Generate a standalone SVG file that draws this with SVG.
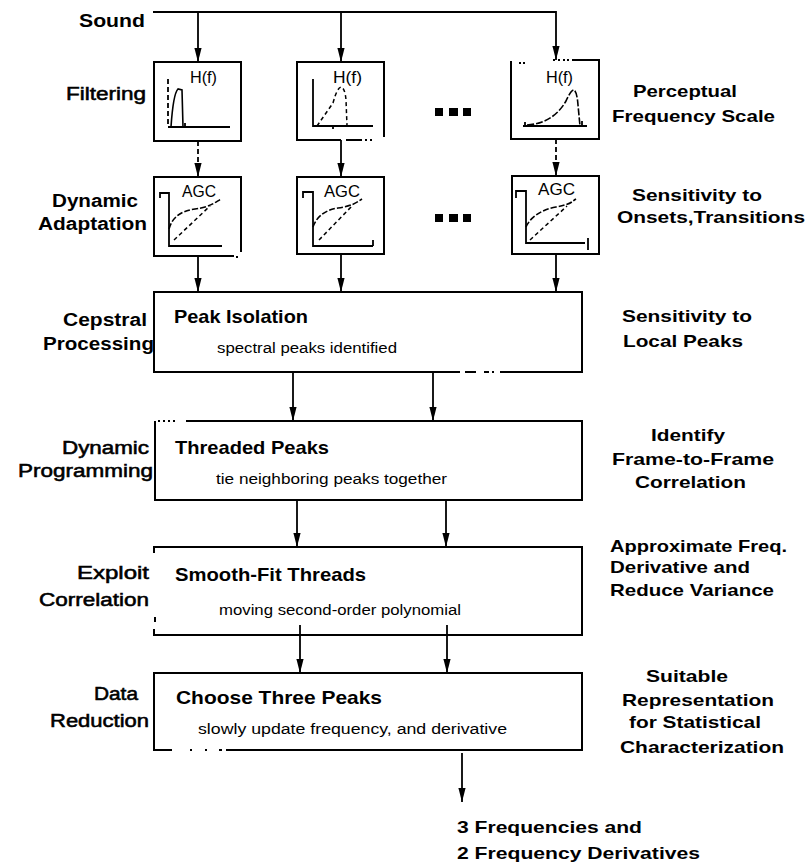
<svg xmlns="http://www.w3.org/2000/svg" width="806" height="863" viewBox="0 0 806 863">
<style>
text{font-family:"Liberation Sans",Arial,Helvetica,sans-serif;fill:#000}
.lb{font-weight:bold;font-size:18px}
.md{font-weight:normal;font-size:18px;stroke:#000;stroke-width:0.55}
.rt{font-weight:bold;font-size:17px}
.tt{font-weight:bold;font-size:19px}
.bd{font-weight:normal;font-size:14px}
.sm{font-weight:normal;font-size:16px}
.box{fill:none;stroke:#000;stroke-width:2}
.ln{fill:none;stroke:#000;stroke-width:1.8}
.dl{fill:none;stroke:#000;stroke-width:1.8;stroke-dasharray:5 3}
.ax{fill:none;stroke:#000;stroke-width:1.8}
.cv{fill:none;stroke:#000;stroke-width:1.6}
.cd{fill:none;stroke:#000;stroke-width:1.5;stroke-dasharray:4 3}
.sq{fill:#000}
</style>
<defs>
<marker id="ah" markerUnits="userSpaceOnUse" markerWidth="16" markerHeight="10" viewBox="-15 -5 16 10" refX="0" refY="0" orient="auto">
<path d="M0,0 L-14,-3.6 L-14,3.6 Z" fill="#000"/>
</marker>
</defs>
<rect x="0" y="0" width="806" height="863" fill="#fff"/>

<!-- left labels -->
<g id="label-sound"><text class="lb" x="79" y="27" font-size="19" textLength="66" lengthAdjust="spacingAndGlyphs">Sound</text></g>
<g id="label-filtering"><text class="md" x="66" y="100" textLength="80" lengthAdjust="spacingAndGlyphs">Filtering</text></g>
<g id="label-dynamic-adaptation">
<text class="lb" x="52" y="207" textLength="86" lengthAdjust="spacingAndGlyphs">Dynamic</text>
<text class="lb" x="38" y="230" textLength="109" lengthAdjust="spacingAndGlyphs">Adaptation</text>
</g>
<g id="label-cepstral">
<text class="lb" x="63" y="326" textLength="84" lengthAdjust="spacingAndGlyphs">Cepstral</text>
<text class="lb" x="43" y="350" textLength="111" lengthAdjust="spacingAndGlyphs">Processing</text>
</g>
<g id="label-dynamic-programming">
<text class="md" x="62" y="454" textLength="87" lengthAdjust="spacingAndGlyphs">Dynamic</text>
<text class="md" x="18" y="477" textLength="135" lengthAdjust="spacingAndGlyphs">Programming</text>
</g>
<g id="label-exploit">
<text class="md" x="77" y="579" textLength="72" lengthAdjust="spacingAndGlyphs">Exploit</text>
<text class="md" x="39" y="606" textLength="110" lengthAdjust="spacingAndGlyphs">Correlation</text>
</g>
<g id="label-data-reduction">
<text class="md" x="94" y="700" textLength="44" lengthAdjust="spacingAndGlyphs">Data</text>
<text class="md" x="50" y="727" textLength="99" lengthAdjust="spacingAndGlyphs">Reduction</text>
</g>

<!-- right labels -->
<g id="label-perceptual">
<text class="rt" x="633" y="97" textLength="104" lengthAdjust="spacingAndGlyphs">Perceptual</text>
<text class="rt" x="612" y="122" textLength="163" lengthAdjust="spacingAndGlyphs">Frequency Scale</text>
</g>
<g id="label-onsets">
<text class="rt" x="632" y="201" textLength="130" lengthAdjust="spacingAndGlyphs">Sensitivity to</text>
<text class="rt" x="617" y="223" textLength="188" lengthAdjust="spacingAndGlyphs">Onsets,Transitions</text>
</g>
<g id="label-local-peaks">
<text class="rt" x="622" y="322" textLength="130" lengthAdjust="spacingAndGlyphs">Sensitivity to</text>
<text class="rt" x="623" y="347" textLength="120" lengthAdjust="spacingAndGlyphs">Local Peaks</text>
</g>
<g id="label-identify">
<text class="rt" x="651" y="441" textLength="74" lengthAdjust="spacingAndGlyphs">Identify</text>
<text class="rt" x="612" y="465" textLength="162" lengthAdjust="spacingAndGlyphs">Frame-to-Frame</text>
<text class="rt" x="635" y="488" textLength="111" lengthAdjust="spacingAndGlyphs">Correlation</text>
</g>
<g id="label-approximate">
<text class="rt" x="610" y="552" textLength="177" lengthAdjust="spacingAndGlyphs">Approximate Freq.</text>
<text class="rt" x="610" y="573" textLength="140" lengthAdjust="spacingAndGlyphs">Derivative and</text>
<text class="rt" x="610" y="596" textLength="164" lengthAdjust="spacingAndGlyphs">Reduce Variance</text>
</g>
<g id="label-suitable">
<text class="rt" x="646" y="682" textLength="82" lengthAdjust="spacingAndGlyphs">Suitable</text>
<text class="rt" x="622" y="706" textLength="152" lengthAdjust="spacingAndGlyphs">Representation</text>
<text class="rt" x="629" y="728" textLength="132" lengthAdjust="spacingAndGlyphs">for Statistical</text>
<text class="rt" x="620" y="753" textLength="164" lengthAdjust="spacingAndGlyphs">Characterization</text>
</g>
<g id="label-output">
<text class="rt" x="457" y="833" textLength="185" lengthAdjust="spacingAndGlyphs">3 Frequencies and</text>
<text class="rt" x="457" y="859" textLength="243" lengthAdjust="spacingAndGlyphs">2 Frequency Derivatives</text>
</g>

<!-- ellipses -->
<g id="ellipsis-filter">
<rect class="sq" x="435" y="108" width="8" height="8"/><rect class="sq" x="449" y="108" width="9" height="8"/><rect class="sq" x="463" y="108" width="8" height="8"/>
</g>
<g id="ellipsis-agc">
<rect class="sq" x="435" y="214" width="8" height="8"/><rect class="sq" x="449" y="214" width="9" height="8"/><rect class="sq" x="463" y="214" width="8" height="8"/>
</g>

<!-- filter boxes -->
<g id="filter-1">
<rect class="box" x="154" y="62" width="87" height="79"/>
<text class="sm" x="190" y="83" textLength="27" lengthAdjust="spacingAndGlyphs">H(f)</text>
<path class="dl" d="M168,79 V127" stroke-dasharray="6 3"/>
<path class="ax" d="M168,127 H230"/>
<path class="cv" d="M171,127 C172,112 174,93 178,89 L182,90 L183,127"/>
<path class="ax" d="M185,127 V123"/>
</g>
<g id="filter-2">
<path class="box" d="M341,140 H297 V62 H384 V137"/>
<path class="box" d="M346,140 H362 M365,140 H367 M370,140 H372"/>
<text class="sm" x="333" y="83" textLength="29" lengthAdjust="spacingAndGlyphs">H(f)</text>
<path class="ax" d="M313,79 V126 H373"/>
<path class="cd" d="M317,126 L333,103 Q337,88 341,87 Q345,88 346,100 L347,126" stroke-dasharray="5 2"/>
<path class="ax" d="M333,126 V129"/>
</g>
<g id="filter-3">
<path class="box" d="M572,60 H599 V139 H511 V61"/>
<path class="box" d="M553,60 H555 M558,60 H560 M563,60 H565 M567,60 H569 M519,63 H521 M523,63 H525"/>
<text class="sm" x="546" y="83" textLength="27" lengthAdjust="spacingAndGlyphs">H(f)</text>
<path class="ax" d="M523,126 H587 M525,122 V126 M582,121 V126"/>
<path class="cv" d="M527,125 C545,124 558,115 566,101 Q571,90 574,90 Q577,92 578,105 L580,126" stroke-dasharray="7 2"/>
</g>

<!-- AGC boxes -->
<g id="agc-1">
<path class="box" d="M241,252 V177 H154 V256 H234"/>
<rect class="sq" x="236" y="256" width="2" height="2"/>
<text class="sm" x="182" y="197" textLength="34" lengthAdjust="spacingAndGlyphs">AGC</text>
<path class="ax" d="M169,199 V193 H160 V198 M169,198 V246 H222"/>
<path class="cv" d="M169,229 C172,218 180,211 195,209 S214,203 221,199" stroke-dasharray="6 2"/>
<path class="cd" d="M174,240 L210,206"/>
</g>
<g id="agc-2">
<rect class="box" x="297" y="177" width="87" height="77"/>
<text class="sm" x="324" y="197" textLength="36" lengthAdjust="spacingAndGlyphs">AGC</text>
<path class="ax" d="M313,198 V192 H303 V198 M313,197 V246 H373 M373,240 V246"/>
<path class="cv" d="M313,227 C316,218 324,210 338,208 S356,203 362,199" stroke-dasharray="6 2"/>
<path class="cd" d="M319,240 L352,206"/>
</g>
<g id="agc-3">
<rect class="box" x="512" y="176" width="87" height="78"/>
<text class="sm" x="538" y="195" textLength="37" lengthAdjust="spacingAndGlyphs">AGC</text>
<path class="ax" d="M526,198 V191 H516 V198 M526,197 V243 H585 M588,238 V250"/>
<path class="cv" d="M526,227 C530,218 540,210 556,207 S571,202 576,199" stroke-dasharray="6 2"/>
<path class="cd" d="M530,240 L567,206"/>
</g>

<!-- processing boxes -->
<g id="peak-isolation">
<path class="box" d="M460,372 H154 V292 H582 V372 H500"/>
<path class="box" d="M465,372 H476 M484,372 H489 M492,372 H494"/>
<text class="tt" x="174" y="323" textLength="134" lengthAdjust="spacingAndGlyphs">Peak Isolation</text>
<text class="bd" x="217" y="353" textLength="180" lengthAdjust="spacingAndGlyphs">spectral peaks identified</text>
</g>
<g id="threaded-peaks">
<path class="box" d="M186,421 H582 V500 H155 V421"/>
<path class="box" d="M158,421 H160 M163,421 H165 M168,421 H170 M173,421 H175" stroke-width="1.5"/>
<text class="tt" x="175" y="454" textLength="154" lengthAdjust="spacingAndGlyphs">Threaded Peaks</text>
<text class="bd" x="216" y="484" textLength="231" lengthAdjust="spacingAndGlyphs">tie neighboring peaks together</text>
</g>
<g id="smooth-fit">
<path class="box" d="M154,553 V547 H582 V635 H154 V629"/>
<path class="box" d="M155,617 V622" stroke-width="1.5"/>
<text class="tt" x="175" y="581" textLength="191" lengthAdjust="spacingAndGlyphs">Smooth-Fit Threads</text>
<text class="bd" x="219" y="615" textLength="242" lengthAdjust="spacingAndGlyphs">moving second-order polynomial</text>
</g>
<g id="choose-three">
<path class="box" d="M226,750 H582 V673 H154 V750 H172"/>
<path class="box" d="M190,750 H192 M205,750 H207 M219,750 H222" stroke-width="1.5"/>
<text class="tt" x="176" y="704" textLength="206" lengthAdjust="spacingAndGlyphs">Choose Three Peaks</text>
<text class="bd" x="198" y="734" textLength="309" lengthAdjust="spacingAndGlyphs">slowly update frequency, and derivative</text>
</g>

<!-- connectors -->
<g id="connectors">
<path class="ln" d="M153,12 H556 V60" marker-end="url(#ah)"/>
<path class="ln" d="M198,12 V62" marker-end="url(#ah)"/>
<path class="ln" d="M341,12 V62" marker-end="url(#ah)"/>
<path class="dl" d="M198,141 V177" marker-end="url(#ah)"/>
<path class="ln" d="M341,140 V177" marker-end="url(#ah)"/>
<path class="dl" d="M556,139 V176" marker-end="url(#ah)"/>
<path class="ln" d="M198,256 V292" marker-end="url(#ah)"/>
<path class="ln" d="M341,254 V292" marker-end="url(#ah)"/>
<path class="ln" d="M556,254 V292" marker-end="url(#ah)"/>
<path class="ln" d="M293,372 V421" marker-end="url(#ah)"/>
<path class="ln" d="M433,372 V421" marker-end="url(#ah)"/>
<path class="ln" d="M297,500 V547" marker-end="url(#ah)"/>
<path class="ln" d="M446,500 V547" marker-end="url(#ah)"/>
<path class="ln" d="M300,625 V673" marker-end="url(#ah)"/>
<path class="ln" d="M447,625 V673" marker-end="url(#ah)"/>
<path class="ln" d="M462,753 V802" marker-end="url(#ah)"/>
</g>
</svg>
